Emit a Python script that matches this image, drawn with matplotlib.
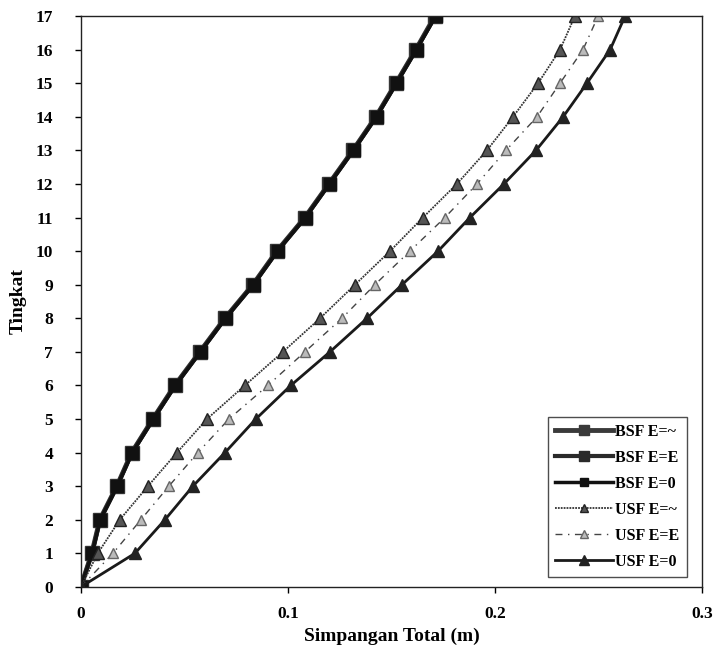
import matplotlib
matplotlib.use("Agg")
import matplotlib.pyplot as plt

# Data
tingkat = list(range(0, 18))

bsf_inf = [0, 0.0053, 0.0092, 0.0174, 0.0246, 0.0348, 0.0454, 0.0575, 0.0696,
           0.0831, 0.0947, 0.1082, 0.1198, 0.1314, 0.1425, 0.1522, 0.1618, 0.1710]
bsf_e = [0, 0.0054, 0.0093, 0.0175, 0.0247, 0.0349, 0.0455, 0.0576, 0.0697,
         0.0832, 0.0948, 0.1083, 0.1199, 0.1315, 0.1426, 0.1523, 0.1619, 0.1712]
bsf_0 = [0, 0.0055, 0.0094, 0.0176, 0.0249, 0.0351, 0.0457, 0.0578, 0.0699,
         0.0834, 0.0950, 0.1085, 0.1201, 0.1317, 0.1428, 0.1525, 0.1621, 0.1714]

usf_inf = [0, 0.0082, 0.0188, 0.0324, 0.0464, 0.0609, 0.0792, 0.0976, 0.1155,
           0.1324, 0.1493, 0.1652, 0.1816, 0.1961, 0.2087, 0.2208, 0.2314, 0.2386]
usf_e = [0, 0.0155, 0.0290, 0.0425, 0.0565, 0.0715, 0.0903, 0.1082, 0.1261,
         0.1420, 0.1589, 0.1758, 0.1913, 0.2053, 0.2203, 0.2314, 0.2425, 0.2498]
usf_0 = [0, 0.0261, 0.0406, 0.0541, 0.0696, 0.0845, 0.1014, 0.1203, 0.1382,
         0.1551, 0.1725, 0.1879, 0.2043, 0.2198, 0.2329, 0.2444, 0.2556, 0.2628]

xticks = [0, 0.1, 0.2, 0.3]
xtick_labels = ["0", "0.1", "0.2", "0.3"]

plt.rcParams['font.family'] = ['Liberation Serif', 'DejaVu Serif']
plt.rcParams['font.weight'] = 'bold'

fig = plt.figure(figsize=(7.15, 6.59), dpi=100)
ax = fig.add_axes([0.113, 0.1093, 0.869, 0.8664])

# BSF series - thick dark lines with big squares
ax.plot(bsf_inf, tingkat, color='#3a3a3a', linewidth=3.5, marker='s', markersize=10,
        label='BSF E=~')
ax.plot(bsf_e, tingkat, color='#2a2a2a', linewidth=3, marker='s', markersize=9,
        label='BSF E=E')
ax.plot(bsf_0, tingkat, color='#111111', linewidth=2.5, marker='s', markersize=8,
        label='BSF E=0')

# USF series - triangles
ax.plot(usf_inf, tingkat, color='#333333', linewidth=1.3, linestyle=(0, (1, 0.6)),
        marker='^', markersize=8, markerfacecolor='#555555', markeredgecolor='#222222',
        label='USF E=~')
ax.plot(usf_e, tingkat, color='#444444', linewidth=1.0, linestyle=(0, (5, 4, 1, 4)),
        marker='^', markersize=7, markerfacecolor='#bbbbbb', markeredgecolor='#666666',
        label='USF E=E')
ax.plot(usf_0, tingkat, color='#1a1a1a', linewidth=2, linestyle='-',
        marker='^', markersize=9, markerfacecolor='#222222', markeredgecolor='#222222',
        label='USF E=0')

ax.set_xlim(0, 0.3)
ax.set_ylim(0, 17)
ax.set_xticks(xticks)
ax.set_xticklabels(xtick_labels)
ax.set_yticks(tingkat)
ax.tick_params(axis='both', labelsize=12.5, direction='out', length=4, width=1)
ax.tick_params(axis='y', pad=16)
ax.tick_params(axis='x', pad=10)
for lab in ax.get_xticklabels() + ax.get_yticklabels():
    lab.set_fontweight('bold')

for s in ax.spines.values():
    s.set_linewidth(1.0)
    s.set_color('#222222')

ax.set_xlabel('Simpangan Total (m)', fontsize=14, fontweight='bold', labelpad=4)
ax.set_ylabel('Tingkat', fontsize=14, fontweight='bold', labelpad=6)

leg = ax.legend(loc='lower right', bbox_to_anchor=(0.975, 0.018), frameon=True,
                fancybox=False, edgecolor='#222222', handlelength=3.6,
                handletextpad=0.15, labelspacing=0.62, borderpad=0.45,
                borderaxespad=0, markerscale=0.75,
                prop={'family': ['Liberation Serif'], 'weight': 'bold', 'size': 11.5})
leg.get_frame().set_linewidth(1.0)

fig.savefig('out.png', dpi=100)
